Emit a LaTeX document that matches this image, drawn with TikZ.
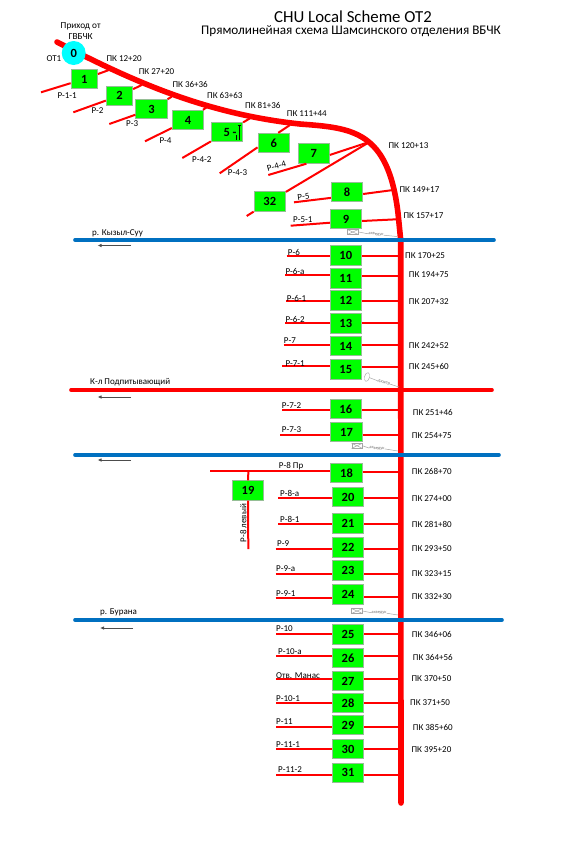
\documentclass[tikz,border=0pt]{standalone}
\usepackage{fontspec}
\setmainfont{Carlito}
\usepackage{tikz}
\usetikzlibrary{arrows.meta,positioning,calc,shapes.geometric}
\definecolor{boxgreen}{RGB}{0,255,0}
\definecolor{boxedge}{RGB}{150,190,150}
\definecolor{riverblue}{RGB}{0,112,192}
\definecolor{pipegray}{RGB}{165,165,165}
\definecolor{startcyan}{RGB}{0,255,255}
\tikzset{
  km/.style={inner sep=0pt,anchor=west,font=\fontsize{9}{10}\selectfont},
  rlabel/.style={inner sep=0pt,anchor=west,font=\fontsize{9}{10}\selectfont},
  wellbox/.style={draw=boxedge,line width=0.8pt,fill=boxgreen,minimum width=31.5pt,minimum height=19.6pt,inner sep=0pt,font=\fontsize{12.5}{13}\selectfont\bfseries},
  smallbox/.style={wellbox,minimum width=26.5pt},
  trunk/.style={red,line width=5.6pt,line cap=round},
  branch/.style={red,line width=2pt},
  river/.style={riverblue,line width=3.6pt,line cap=round},
  flow/.style={-{Latex[length=4pt,width=3.5pt]},black!70,line width=0.9pt},
  pipe/.style={pipegray,line width=0.5pt},
  pipetext/.style={inner sep=0pt,pipegray!70!black,font=\fontsize{4.5}{5}\selectfont}
}
\begin{document}
\begin{tikzpicture}[x=1pt,y=-1pt]
  \useasboundingbox (0,0) rectangle (587,846);
  \node[inner sep=0pt,font=\fontsize{16.8}{18}\selectfont] (title) at (353,17) {CHU Local Scheme OT2};
  \node[inner sep=0pt,font=\fontsize{13.2}{15}\selectfont] (subtitle) at (351,31) {Прямолинейная схема Шамсинского отделения ВБЧК};

  \coordinate (t0) at (57,42);
  \coordinate (tb) at (300,124);
  \coordinate (tc) at (398,213);
  \coordinate (td) at (401,803);
  \draw[trunk] (t0) .. controls (130,80) and (205,114) .. (tb) .. controls (352,128) and (388,130) .. (tc) -- (400.7,240) -- (td);

  \coordinate (rk1) at (75,240);
  \coordinate (rk2) at (494,240);
  \coordinate (can1) at (71,390);
  \coordinate (can2) at (492,390);
  \coordinate (rv1) at (75,455);
  \coordinate (rv2) at (499,455);
  \coordinate (rb1) at (75,620);
  \coordinate (rb2) at (502,620);
  \draw[river] (rk1) -- (rk2);
  \draw[river,red] (can1) -- (can2);
  \draw[river] (rv1) -- (rv2);
  \draw[river] (rb1) -- (rb2);
  \node[rlabel] (lkyz) at (92,233) {р. Кызыл-Суу};
  \node[rlabel] (lpod) at (90,382.3) {К-л Подпитывающий};
  \node[rlabel] (lbur) at (100,612.3) {р. Бурана};
  \coordinate (a1) at (131,245.5);
  \coordinate (b1) at (97.5,245.5);
  \coordinate (a2) at (131,397);
  \coordinate (b2) at (97.5,397);
  \coordinate (a3) at (131,460);
  \coordinate (b3) at (97.5,460);
  \coordinate (a4) at (133,628);
  \coordinate (b4) at (100,628);
  \draw[flow] (a1) -- (b1);
  \draw[flow] (a2) -- (b2);
  \draw[flow] (a3) -- (b3);
  \draw[flow] (a4) -- (b4);

  \node[smallbox] (n1) at (84.3,79) {1};
  \node[smallbox] (n2) at (119.5,95.7) {2};
  \node[wellbox] (n3) at (151.5,109) {3};
  \node[wellbox] (n4) at (188,120) {4};
  \node[wellbox] (n5) at (227,132) {\hspace{6pt}5 -};
  \node[wellbox] (n6) at (273.7,143) {6};
  \node[wellbox] (n7) at (313.8,153.5) {7};
  \node[wellbox] (n32) at (269.8,201.5) {32};
  \node[wellbox] (n8) at (347,192) {8};
  \node[wellbox] (n9) at (346,219) {9};
  \node[wellbox] (n10) at (345.8,255.5) {10};
  \node[wellbox] (n11) at (345.8,278.3) {11};
  \node[wellbox] (n12) at (345.8,300.5) {12};
  \node[wellbox] (n13) at (345.8,323.5) {13};
  \node[wellbox] (n14) at (345.8,346) {14};
  \node[wellbox] (n15) at (345.8,369.5) {15};
  \node[wellbox] (n16) at (345.8,409) {16};
  \node[wellbox] (n17) at (346.5,432) {17};
  \node[wellbox] (n18) at (346.5,473) {18};
  \node[wellbox] (n19) at (248,490.5) {19};
  \node[wellbox] (n20) at (348,497) {20};
  \node[wellbox] (n21) at (348,523.5) {21};
  \node[wellbox] (n22) at (348,547.5) {22};
  \node[wellbox] (n23) at (348,570.5) {23};
  \node[wellbox] (n24) at (348,594.5) {24};
  \node[wellbox] (n25) at (348,634.5) {25};
  \node[wellbox] (n26) at (348,658) {26};
  \node[wellbox] (n27) at (348,681) {27};
  \node[wellbox] (n28) at (348,703) {28};
  \node[wellbox] (n29) at (348,725) {29};
  \node[wellbox] (n30) at (348,749) {30};
  \node[wellbox] (n31) at (348,772.7) {31};
  \node[circle,fill=startcyan,minimum size=24pt,inner sep=0pt,font=\fontsize{12.5}{13}\selectfont\bfseries] (n0) at (73.7,53) {0};

  \coordinate (c1) at (239.3,124.7);
  \coordinate (c2) at (239.3,139.7);
  \coordinate (c3) at (236.5,135);
  \coordinate (c4) at (236.5,139.7);
  \draw[{Bar[width=3pt]}-,black,line width=0.6pt] (c1) -- (c2);
  \draw[black,line width=0.5pt] (c3) -- (c4);

  \coordinate (r1) at (41,92.3);
  \coordinate (j1) at (109,70);
  \coordinate (r2) at (73.3,112.3);
  \coordinate (j2) at (141.7,85);
  \coordinate (r3) at (109.3,124);
  \coordinate (j3) at (171.7,96.7);
  \coordinate (r4) at (145,141.3);
  \coordinate (j4) at (206.7,107.3);
  \coordinate (r5) at (182.3,158);
  \coordinate (j5) at (250,118.3);
  \coordinate (r6) at (219.7,173.3);
  \coordinate (j6) at (290,125);
  \coordinate (r7) at (268.3,175);
  \coordinate (j7) at (370,141.7);
  \coordinate (r32) at (246.7,216);
  \coordinate (r8) at (294,202.3);
  \coordinate (j8) at (393.3,190);
  \coordinate (r9) at (290.7,225.7);
  \coordinate (j9) at (396.7,219.3);
  \draw[branch] (r1) -- (n1);
  \draw[branch] (n1) -- (j1);
  \draw[branch] (r2) -- (n2);
  \draw[branch] (n2) -- (j2);
  \draw[branch] (r3) -- (n3);
  \draw[branch] (n3) -- (j3);
  \draw[branch] (r4) -- (n4);
  \draw[branch] (n4) -- (j4);
  \draw[branch] (r5) -- (n5);
  \draw[branch] (n5) -- (j5);
  \draw[branch] (r6) -- (n6.195);
  \draw[branch] (n6.66) -- (j6);
  \draw[branch] (r7) -- (n7.234);
  \draw[branch] (n7.355) -- (j7);
  \draw[branch] (r32) -- (n32);
  \draw[branch] (n32) -- (j7);
  \draw[branch] (r8) -- (n8.200);
  \draw[branch] (n8.353) -- (j8);
  \draw[branch] (r9) -- (n9.193);
  \draw[branch] (n9.353) -- (j9);

  \coordinate (r10) at (286.7,256.3);
  \coordinate (j10) at (401,256.3);
  \coordinate (r11) at (285,275.3);
  \coordinate (j11) at (401,275.5);
  \coordinate (r12) at (286,301.3);
  \coordinate (j12) at (401,301);
  \coordinate (r13) at (285,323.3);
  \coordinate (j13) at (401,322.7);
  \coordinate (r14) at (283.7,345);
  \coordinate (j14) at (401,345);
  \coordinate (r15) at (282.3,366.3);
  \coordinate (j15) at (401,366.7);
  \coordinate (r16) at (282.3,410.3);
  \coordinate (j16) at (401,410.3);
  \coordinate (r17) at (280,434.7);
  \coordinate (j17) at (401,434.7);
  \coordinate (r18) at (210,471.3);
  \coordinate (j18) at (401,471.7);
  \coordinate (r20) at (278.3,498.3);
  \coordinate (j20) at (401,498.3);
  \coordinate (r21) at (278.3,524.3);
  \coordinate (j21) at (401,524.3);
  \coordinate (r22) at (275.7,549.3);
  \coordinate (j22) at (401,549.3);
  \coordinate (r23) at (275.7,573.7);
  \coordinate (j23) at (401,573.7);
  \coordinate (r24) at (275.7,598);
  \coordinate (j24) at (401,597);
  \coordinate (r25) at (276,634.3);
  \coordinate (j25) at (401,633.7);
  \coordinate (r26) at (276,656.3);
  \coordinate (j26) at (401,656.3);
  \coordinate (r27) at (276,679);
  \coordinate (j27) at (401,679);
  \coordinate (r28) at (276,703.3);
  \coordinate (j28) at (401,703.3);
  \coordinate (r29) at (276,726.7);
  \coordinate (j29) at (401,726.7);
  \coordinate (r30) at (276,749);
  \coordinate (j30) at (401,749);
  \coordinate (r31) at (276,775);
  \coordinate (j31) at (401,775);
  \draw[branch] (r10) -- (n10.west |- r10);
  \draw[branch] (n10.east |- j10) -- (j10);
  \draw[branch] (r11) -- (n11.west |- r11);
  \draw[branch] (n11.east |- j11) -- (j11);
  \draw[branch] (r12) -- (n12.west |- r12);
  \draw[branch] (n12.east |- j12) -- (j12);
  \draw[branch] (r13) -- (n13.west |- r13);
  \draw[branch] (n13.east |- j13) -- (j13);
  \draw[branch] (r14) -- (n14.west |- r14);
  \draw[branch] (n14.east |- j14) -- (j14);
  \draw[branch] (r15) -- (n15.west |- r15);
  \draw[branch] (n15.east |- j15) -- (j15);
  \draw[branch] (r16) -- (n16.west |- r16);
  \draw[branch] (n16.east |- j16) -- (j16);
  \draw[branch] (r17) -- (n17.west |- r17);
  \draw[branch] (n17.east |- j17) -- (j17);
  \draw[branch] (r18) -- (n18.west |- r18);
  \draw[branch] (n18.east |- j18) -- (j18);
  \coordinate (j19) at (248.3,471.3);
  \coordinate (r19) at (248.3,549);
  \draw[branch] (j19) -- (n19);
  \draw[branch] (n19) -- (r19);
  \draw[branch] (r20) -- (n20.west |- r20);
  \draw[branch] (n20.east |- j20) -- (j20);
  \draw[branch] (r21) -- (n21.west |- r21);
  \draw[branch] (n21.east |- j21) -- (j21);
  \draw[branch] (r22) -- (n22.west |- r22);
  \draw[branch] (n22.east |- j22) -- (j22);
  \draw[branch] (r23) -- (n23.west |- r23);
  \draw[branch] (n23.east |- j23) -- (j23);
  \draw[branch] (r24) -- (n24.west |- r24);
  \draw[branch] (n24.east |- j24) -- (j24);
  \draw[branch] (r25) -- (n25.west |- r25);
  \draw[branch] (n25.east |- j25) -- (j25);
  \draw[branch] (r26) -- (n26.west |- r26);
  \draw[branch] (n26.east |- j26) -- (j26);
  \draw[branch] (r27) -- (n27.west |- r27);
  \draw[branch] (n27.east |- j27) -- (j27);
  \draw[branch] (r28) -- (n28.west |- r28);
  \draw[branch] (n28.east |- j28) -- (j28);
  \draw[branch] (r29) -- (n29.west |- r29);
  \draw[branch] (n29.east |- j29) -- (j29);
  \draw[branch] (r30) -- (n30.west |- r30);
  \draw[branch] (n30.east |- j30) -- (j30);
  \draw[branch] (r31) -- (n31.west |- r31);
  \draw[branch] (n31.east |- j31) -- (j31);

  \node[inner sep=0pt,font=\fontsize{9.3}{10.7}\selectfont,align=center] (lin) at (80.7,30.7) {Приход от\\ГВБЧК};
  \node[rlabel] (lot) at (46.3,59) {ОТ1};
  \node[rlabel] (l1) at (57.3,96) {Р-1-1};
  \node[rlabel] (l2) at (91.3,111) {Р-2};
  \node[rlabel] (l3) at (126,123.7) {Р-3};
  \node[rlabel] (l4) at (159.3,140.7) {Р-4};
  \node[rlabel] (l5) at (192,160) {Р-4-2};
  \node[rlabel] (l6) at (227.7,172.7) {Р-4-3};
  \node[rlabel,anchor=center,rotate=15] (l7) at (276.5,166.5) {Р-4-4};
  \node[rlabel,anchor=center,rotate=8] (l8) at (303.5,196.5) {Р-5};
  \node[rlabel] (l9) at (293,219.7) {Р-5-1};
  \node[rlabel] (l10) at (287.7,252) {Р-6};
  \node[rlabel] (l11) at (285.3,271.3) {Р-6-а};
  \node[rlabel] (l12) at (286.7,298.3) {Р-6-1};
  \node[rlabel] (l13) at (285.3,319.3) {Р-6-2};
  \node[rlabel] (l14) at (283.7,340.3) {Р-7};
  \node[rlabel] (l15) at (285.3,363.3) {Р-7-1};
  \node[rlabel] (l16) at (281.7,406) {Р-7-2};
  \node[rlabel] (l17) at (281.7,430) {Р-7-3};
  \node[rlabel] (l18) at (278.7,466.3) {Р-8 Пр};
  \node[rlabel,anchor=center,rotate=90] (l19) at (243.3,523) {Р-8 левый};
  \node[rlabel] (l20) at (280,493) {Р-8-а};
  \node[rlabel] (l21) at (280,519) {Р-8-1};
  \node[rlabel] (l22) at (277,544) {Р-9};
  \node[rlabel] (l23) at (276,568.3) {Р-9-а};
  \node[rlabel] (l24) at (276,593.3) {Р-9-1};
  \node[rlabel] (l25) at (276,629) {Р-10};
  \node[rlabel] (l26) at (278,652) {Р-10-а};
  \node[rlabel] (l27) at (276,675.3) {Отв. Манас};
  \node[rlabel] (l28) at (276,699) {Р-10-1};
  \node[rlabel] (l29) at (276,722) {Р-11};
  \node[rlabel] (l30) at (276,745) {Р-11-1};
  \node[rlabel] (l31) at (278,770) {Р-11-2};

  \node[km] (k1) at (106.3,59) {ПК 12+20};
  \node[km] (k2) at (138.7,71.7) {ПК 27+20};
  \node[km] (k3) at (172.3,84) {ПК 36+36};
  \node[km] (k4) at (207,95) {ПК 63+63};
  \node[km] (k5) at (245,105) {ПК 81+36};
  \node[km] (k6) at (286.7,114) {ПК 111+44};
  \node[km] (k7) at (388.3,146) {ПК 120+13};
  \node[km] (k8) at (399.3,190) {ПК 149+17};
  \node[km] (k9) at (403.3,216) {ПК 157+17};
  \node[km] (k10) at (405,256) {ПК 170+25};
  \node[km] (k11) at (408.7,275) {ПК 194+75};
  \node[km] (k12) at (408.7,302) {ПК 207+32};
  \node[km] (k14) at (408.7,346) {ПК 242+52};
  \node[km] (k15) at (408.7,366) {ПК 245+60};
  \node[km] (k16) at (412.7,412) {ПК 251+46};
  \node[km] (k17) at (411.7,436) {ПК 254+75};
  \node[km] (k18) at (411.7,471) {ПК 268+70};
  \node[km] (k20) at (411.7,499) {ПК 274+00};
  \node[km] (k21) at (411.7,524) {ПК 281+80};
  \node[km] (k22) at (411.7,549) {ПК 293+50};
  \node[km] (k23) at (411.7,574) {ПК 323+15};
  \node[km] (k24) at (411.7,597) {ПК 332+30};
  \node[km] (k25) at (411.7,634) {ПК 346+06};
  \node[km] (k26) at (412.7,657) {ПК 364+56};
  \node[km] (k27) at (411.3,679) {ПК 370+50};
  \node[km] (k28) at (410,703) {ПК 371+50};
  \node[km] (k29) at (412.7,727) {ПК 385+60};
  \node[km] (k30) at (411.3,750) {ПК 395+20};

  \node[draw=pipegray,minimum width=11pt,minimum height=4.8pt,inner sep=0pt] (p1) at (352.8,232) {};
  \draw[pipe] (p1.south west) -- (p1.north east);
  \draw[pipe] (p1.north west) -- (p1.south east);
  \coordinate (q1) at (397,236.5);
  \node[pipetext,rotate=-5] (t1) at (376,234.5) {акведук};
  \draw[pipe] (p1.east) -- (t1.west);
  \draw[pipe] (t1.east) -- (q1);
  \node[draw=pipegray,ellipse,minimum width=5pt,minimum height=9pt,inner sep=0pt,rotate=-15] (p2) at (367,377) {};
  \coordinate (q2) at (399,387);
  \node[pipetext,rotate=-15] (t2) at (384,382.5) {дюкер};
  \draw[pipe] (p2.east) -- (t2.west);
  \draw[pipe] (t2.east) -- (q2);
  \node[draw=pipegray,minimum width=10.6pt,minimum height=4.8pt,inner sep=0pt] (p3) at (357,445.8) {};
  \draw[pipe] (p3.south west) -- (p3.north east);
  \draw[pipe] (p3.north west) -- (p3.south east);
  \coordinate (q3) at (398,451);
  \node[pipetext,rotate=-3] (t3) at (377,448.5) {акведук};
  \draw[pipe] (p3.east) -- (t3.west);
  \draw[pipe] (t3.east) -- (q3);
  \node[draw=pipegray,minimum width=11pt,minimum height=4.8pt,inner sep=0pt] (p4) at (357,611) {};
  \draw[pipe] (p4.south west) -- (p4.north east);
  \draw[pipe] (p4.north west) -- (p4.south east);
  \coordinate (q4) at (398,615);
  \node[pipetext,rotate=-2] (t4) at (379,613) {акведук};
  \draw[pipe] (p4.east) -- (t4.west);
  \draw[pipe] (t4.east) -- (q4);
\end{tikzpicture}
\end{document}
